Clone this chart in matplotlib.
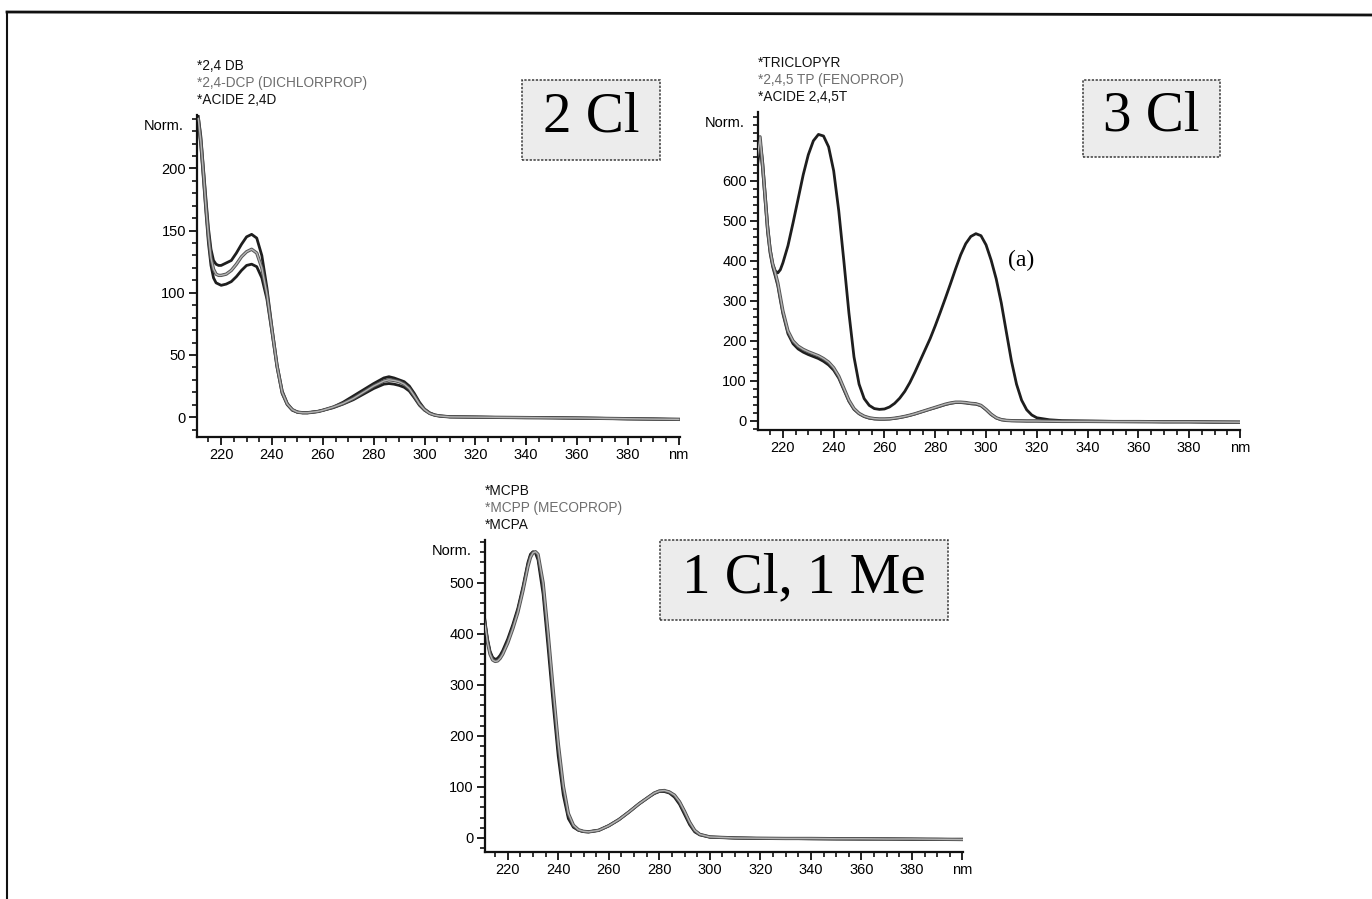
import matplotlib
matplotlib.use("Agg")
import matplotlib.pyplot as plt
from matplotlib.patches import Rectangle
from matplotlib.lines import Line2D
from matplotlib.ticker import MultipleLocator, FixedLocator

plt.rcParams['font.family'] = ['Liberation Sans', 'DejaVu Sans']

W, H = 1372, 899

# --- 2 Cl : dichlorinated phenoxy acids ---
wl_2cl = [211, 212, 213, 214, 215, 216, 217, 218, 219, 220,
          222, 224, 226, 228, 230, 232, 234, 236, 238, 240,
          242, 244, 246, 248, 250, 252, 254, 256, 258, 260,
          264, 268, 272, 276, 280, 284,
          286, 288, 290, 292, 294, 296, 298, 300, 302, 304, 306,
          310, 320, 330, 340, 350, 360, 370, 380, 390, 400]
db_24 = [242, 226, 201, 176, 152, 135, 126, 123, 122, 122,
         124, 126, 132, 139, 145, 147, 144, 130, 104, 72,
         42, 21, 11, 6, 4, 3.5, 3.5, 4, 4.5, 5.5,
         8, 12, 17, 22, 27, 31.5,
         32.5, 31.5, 30, 28.5, 25, 19, 12, 6.5, 3.5, 1.8, 1,
         0.3, 0, -0.3, -0.5, -0.5, -0.8, -1, -1.5, -1.5, -1.8]
dcp_24 = [240, 222, 197, 170, 146, 128, 119, 115, 114, 114,
          115, 118, 123, 129, 133, 135, 132, 120, 99, 70,
          41, 20, 10.5, 6, 4, 3.5, 3.5, 4, 4.5, 5.5,
          8, 11, 15, 20, 25, 29,
          30, 29.5, 28.5, 26.5, 23, 17, 10.5, 6, 3, 1.6, 0.9,
          0.2, 0, -0.2, -0.4, -0.6, -0.7, -1, -1.3, -1.6, -1.8]
acide_24d = [238, 218, 192, 165, 140, 122, 112, 108, 107, 106,
             107, 109, 113, 118, 122, 123, 121, 112, 95, 68,
             40, 19, 10, 5.5, 4, 3.5, 3.5, 4, 4.5, 5.5,
             7.5, 10.5, 14, 18.5, 23, 26.5,
             27, 26.5, 25.5, 24, 21, 15.5, 9.5, 5.5, 3, 1.5, 0.8,
             0.2, 0, -0.3, -0.3, -0.5, -0.8, -1, -1.2, -1.6, -2]

# --- 3 Cl ---
wl_3cl = [210, 211, 212, 213, 214, 215, 216, 217, 218, 219, 220,
          222, 224, 226, 228, 230, 232, 234, 236, 238,
          240, 242, 244, 246, 248, 250, 252, 254, 256, 258,
          260, 262, 264, 266, 268, 270, 272, 274, 276, 278,
          280, 282, 284, 286, 288, 290, 292, 294, 296, 298,
          300, 302, 304, 306, 308, 310, 312, 314, 316, 318,
          320, 325, 330, 340, 350, 360, 370, 380, 390, 400]
triclopyr = [690, 700, 650, 570, 490, 430, 392, 375, 370, 378, 395,
             438, 495, 555, 615, 665, 700, 716, 712, 685,
             625, 525, 400, 270, 160, 92, 56, 39, 31, 29,
             30, 35, 44, 57, 74, 96, 122, 150, 178, 206,
             238, 272, 307, 343, 380, 415, 443, 461, 468, 463,
             440, 402, 355, 295, 222, 150, 92, 52, 28, 15,
             8, 3, 1, 0, -1, -1, -2, -2, -3, -3]
fenoprop = [660, 710, 640, 560, 480, 425, 392, 370, 345, 310, 275,
            225, 200, 187, 179, 173, 168, 163, 156, 147,
            133, 112, 82, 52, 31, 19, 12, 8, 6, 5,
            5, 5.5, 7, 9, 11.5, 14.5, 18, 22, 26, 30,
            34, 38, 42, 45, 47, 47, 46, 44, 43, 39,
            29, 17, 8, 3.5, 1.5, 0.8, 0.5, 0.3, 0, 0,
            0, -0.5, -1, -1, -1.5, -1.5, -2, -2, -2.5, -3]
acide_245t = [640, 690, 630, 550, 470, 418, 385, 362, 338, 302, 268,
              218, 193, 180, 172, 166, 161, 156, 149, 140,
              127, 107, 78, 49, 29, 18, 11, 7, 5, 4.5,
              4.5, 5, 6.5, 8.5, 11, 14, 17.5, 21.5, 25.5, 29.5,
              33, 37, 41, 44, 46, 46, 45, 43, 42, 38,
              28, 16, 7.5, 3, 1.5, 0.8, 0.5, 0.3, 0, 0,
              0, -0.5, -1, -1, -1.5, -2, -2, -2, -2.5, -3]

# --- 1 Cl, 1 Me ---
wl_clme = [210, 211, 212, 213, 214, 215, 216, 217, 218,
           220, 222, 224, 226, 228,
           229, 230, 231,
           232, 234, 236, 238, 240, 242, 244, 246, 248, 250, 252,
           256, 260, 264, 268, 272, 276,
           278, 280, 282, 284, 286, 288, 290, 292, 294, 296,
           300,
           310, 320, 330, 340, 350, 360, 370, 380, 390, 400]
mcpb = [466, 425, 390, 366, 354, 350, 352, 358, 367,
        390, 418, 450, 492, 540,
        556, 561, 558,
        545, 478, 372, 262, 160, 84, 38, 21, 15, 12.5, 12,
        15, 24, 36, 51, 67, 81,
        87, 91, 91, 88, 80, 66, 46, 26, 12, 6,
        1.5,
        0, -1, -1, -1.5, -1.5, -2, -2, -2.5, -3, -2.5]
mcpp = [460, 418, 383, 360, 349, 346, 347, 352, 360,
        382, 410, 442, 484, 532,
        550, 559, 561,
        556, 500, 400, 290, 185, 102, 48, 25, 16, 13, 12,
        15, 24, 36, 51, 67, 81,
        88, 92, 93, 90, 84, 71, 52, 31, 15, 7,
        2,
        0, -0.5, -1, -1, -1.5, -1.5, -2, -2, -2.5, -3]
mcpa = [462, 420, 386, 363, 352, 348, 350, 355, 364,
        386, 414, 446, 488, 536,
        553, 560, 560,
        551, 490, 388, 278, 174, 94, 43, 23, 15.5, 12.5, 12,
        15, 24, 36, 51, 67, 81,
        88, 92, 92, 90, 83, 70, 51, 30, 14, 7,
        2,
        0, -1, -1, -1.5, -2, -2, -2, -2.5, -2.5, -3]

x_major = [220, 240, 260, 280, 300, 320, 340, 360, 380, 400]
x_labels = ['220', '240', '260', '280', '300', '320', '340', '360', '380', 'nm']

DARK = '#1e1e1e'
GREY = '#8c8c8c'


def rect(x0, y0, x1, y1):
    # pixel box (top-left origin) -> figure fraction [l, b, w, h]
    return [x0 / W, 1 - y1 / H, (x1 - x0) / W, (y1 - y0) / H]


def fxy(x, y):
    return x / W, 1 - y / H


fig = plt.figure(figsize=(W / 100, H / 100), dpi=100)
fig.patch.set_facecolor('white')


def panel(box, xlim, ylim, yticks, ymin, wl, series, names, tag, tag_box):
    ax = fig.add_axes(rect(*box))
    for vals, col in series:
        if col == GREY:
            ax.plot(wl, vals, color='#555555', lw=2.4, solid_joinstyle='round', zorder=2)
            ax.plot(wl, vals, color='#b4b4b4', lw=1.0, zorder=3)
        else:
            ax.plot(wl, vals, color=DARK, lw=2.0, solid_joinstyle='round', zorder=2)
    ax.set_xlim(*xlim)
    ax.set_ylim(*ylim)
    for s in ['top', 'right']:
        ax.spines[s].set_visible(False)
    for s in ['left', 'bottom']:
        ax.spines[s].set_linewidth(1.6)
        ax.spines[s].set_color('#111111')
    ax.set_xticks(x_major)
    ax.set_xticklabels(x_labels)
    ax.xaxis.set_minor_locator(MultipleLocator(5))
    ax.yaxis.set_major_locator(FixedLocator(yticks))
    ax.yaxis.set_minor_locator(MultipleLocator(ymin))
    ax.tick_params(which='major', direction='out', length=6, width=1.3,
                   labelsize=10.5, color='#111111', pad=2)
    ax.tick_params(which='minor', direction='out', length=3.5, width=1.2,
                   color='#111111')
    ax.set_facecolor('none')

    # legend lines and "Norm." label
    lx, ly = box[0], box[1]
    cols = ['#111111', '#6e6e6e', '#111111']
    for i, (nm, c) in enumerate(zip(names, cols)):
        fig.text(*fxy(lx, ly - 49 + 17 * i), nm, color=c, fontsize=9.8,
                 ha='left', va='center')
    fig.text(*fxy(lx - 13, ly + 11), 'Norm.', fontsize=10.5, ha='right', va='center')

    # boxed group label
    bx0, by0, bx1, by1 = tag_box
    fig.patches.append(Rectangle(fxy(bx0, by1), (bx1 - bx0) / W, (by1 - by0) / H,
                                 transform=fig.transFigure, facecolor='#ececec',
                                 edgecolor='#3a3a3a', lw=1.1, linestyle=(0, (1.5, 1))))
    fig.text(*fxy((bx0 + bx1) / 2, (by0 + by1) / 2 - 2), tag,
             family='Liberation Serif', fontsize=41, ha='center', va='center')
    return ax


panel((197, 115, 680, 437), (210.5, 400.5), (-16, 243), [0, 50, 100, 150, 200], 10,
      wl_2cl, [(db_24, DARK), (acide_24d, DARK), (dcp_24, GREY)],
      ['*2,4 DB', '*2,4-DCP (DICHLORPROP)', '*ACIDE 2,4D'],
      '2 Cl', (522, 80, 660, 160))

panel((758, 112, 1240, 430), (210.2, 399.5), (-22.5, 772),
      [0, 100, 200, 300, 400, 500, 600], 20,
      wl_3cl, [(triclopyr, DARK), (acide_245t, DARK), (fenoprop, GREY)],
      ['*TRICLOPYR', '*2,4,5 TP (FENOPROP)', '*ACIDE 2,4,5T'],
      '3 Cl', (1083, 80, 1220, 157))
fig.text(*fxy(1021, 260), '(a)', family='Liberation Serif', fontsize=17,
         ha='center', va='center')

panel((485, 540, 963, 852), (211, 400.2), (-27.5, 584),
      [0, 100, 200, 300, 400, 500], 20,
      wl_clme, [(mcpb, DARK), (mcpa, DARK), (mcpp, GREY)],
      ['*MCPB', '*MCPP (MECOPROP)', '*MCPA'],
      '1 Cl, 1 Me', (660, 540, 948, 620))

# page frame
fig.add_artist(Line2D([7 / W, 1], [1 - 12 / H, 1 - 15 / H], transform=fig.transFigure,
                      color='#111111', lw=2))
fig.add_artist(Line2D([7 / W, 7 / W], [1 - 12 / H, 0], transform=fig.transFigure,
                      color='#111111', lw=1.5))

fig.savefig('out.png', dpi=100)
